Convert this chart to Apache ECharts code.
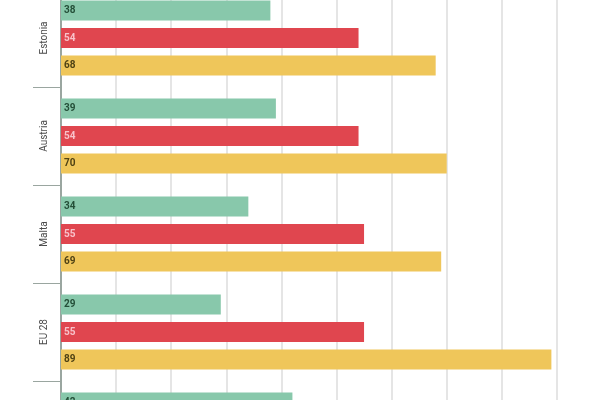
<!DOCTYPE html>
<html>
<head>
<meta charset="utf-8">
<script src="https://cdn.jsdelivr.net/npm/echarts@6/dist/echarts.min.js"></script>
<style>html,body{margin:0;padding:0;background:#fff}#c{width:600px;height:400px}</style>
</head>
<body>
<div id="c"></div>
<script>
const categories = ['Estonia', 'Austria', 'Malta', 'EU 28', 'Latvia'];
const greenValues = [38, 39, 34, 29, 42];
const redValues = [54, 54, 55, 55, null];
const yellowValues = [68, 70, 69, 89, null];
const xTicks = [0, 10, 20, 30, 40, 50, 60, 70, 80, 90, 100];

const chart = echarts.init(document.getElementById('c'), null, {renderer: 'canvas'});
function lbl(color) {
  return {show: true, position: 'insideLeft', distance: 3, color: color,
    fontSize: 10, fontWeight: 'bold', fontFamily: 'Roboto'};
}
chart.setOption({
  animation: false,
  grid: {left: 61, width: 551, top: -11, height: 490, containLabel: false, outerBoundsMode: 'none'},
  xAxis: {
    type: 'value', min: xTicks[0], max: xTicks[xTicks.length - 1], interval: 10,
    axisLabel: {show: false}, axisLine: {show: false}, axisTick: {show: false},
    splitLine: {show: true, lineStyle: {color: '#dcdcdc', width: 1.5}}
  },
  yAxis: {
    type: 'category', data: categories, inverse: true,
    axisLine: {show: true, lineStyle: {color: '#9aa6a0', width: 2}},
    axisTick: {show: true, length: 28, lineStyle: {color: '#9aa6a0', width: 1}},
    axisLabel: {rotate: 90, margin: 12, color: '#4a4a4a', fontSize: 10, fontFamily: 'Roboto'}
  },
  series: [
    {name: 'green', type: 'bar', data: greenValues, barWidth: 20, barGap: '37%',
      itemStyle: {color: '#88c8ab'}, label: lbl('#244f38')},
    {name: 'red', type: 'bar', data: redValues, barWidth: 20, barGap: '37%',
      itemStyle: {color: '#e0464f'}, label: lbl('#f8c2ca')},
    {name: 'yellow', type: 'bar', data: yellowValues, barWidth: 20, barGap: '37%',
      itemStyle: {color: '#efc65a'}, label: lbl('#4f4214')}
  ]
});
</script>
</body>
</html>
